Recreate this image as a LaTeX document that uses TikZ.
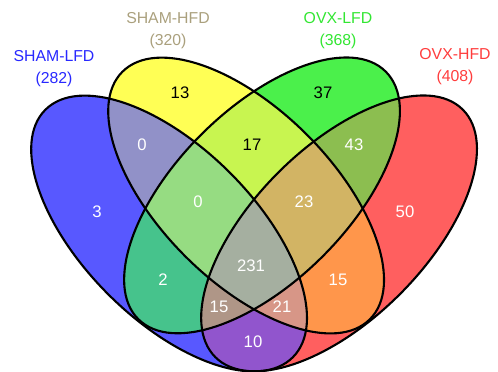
\documentclass[tikz,border=0pt]{standalone}
\usepackage{fontspec}
\setmainfont{Liberation Sans}
% one set
\definecolor{onlyA}{RGB}{88,88,255}
\definecolor{onlyB}{RGB}{255,255,85}
\definecolor{onlyC}{RGB}{75,240,75}
\definecolor{onlyD}{RGB}{255,95,95}
% two sets
\definecolor{twoAB}{RGB}{145,145,200}
\definecolor{twoAC}{RGB}{70,195,140}
\definecolor{twoAD}{RGB}{145,85,205}
\definecolor{twoBC}{RGB}{200,245,80}
\definecolor{twoBD}{RGB}{255,150,75}
\definecolor{twoCD}{RGB}{140,190,80}
% three and four sets
\definecolor{threeABC}{RGB}{150,220,130}
\definecolor{threeABD}{RGB}{215,150,135}
\definecolor{threeACD}{RGB}{175,150,135}
\definecolor{threeBCD}{RGB}{210,180,100}
\definecolor{fourABCD}{RGB}{165,175,160}
% labels
\definecolor{labA}{RGB}{40,40,255}
\definecolor{labB}{RGB}{170,160,125}
\definecolor{labC}{RGB}{50,230,50}
\definecolor{labD}{RGB}{255,60,60}
\begin{document}
\begin{tikzpicture}[scale=0.02,
  vsize/.style={x radius=175, y radius=86},
  num/.style={text=white, font=\fontsize{9.5}{11}\selectfont},
  dark/.style={text=black},
  title/.style={align=center, font=\fontsize{9}{12.5}\selectfont}]
 \useasboundingbox (0,0) rectangle (498,371);
 % centres of the ellipses
 \coordinate (A) at (169,137.5);
 \coordinate (B) at (246,175.5);
 \coordinate (C) at (262,175.5);
 \coordinate (D) at (339,137.5);
 % one set
 \foreach \s/\r in {A/-45,B/-45,C/45,D/45}
   \fill[fill=only\s, rotate around={\r:(\s)}] (\s) ellipse [vsize];
 % two sets
 \foreach \s/\r/\t/\q in {A/-45/B/-45, A/-45/C/45, A/-45/D/45,
                          B/-45/C/45, B/-45/D/45, C/45/D/45}{
   \begin{scope}
     \clip[rotate around={\r:(\s)}] (\s) ellipse [vsize];
     \fill[fill=two\s\t, rotate around={\q:(\t)}] (\t) ellipse [vsize];
   \end{scope}}
 % three sets
 \foreach \s/\r/\t/\q/\u/\p in {A/-45/B/-45/C/45, A/-45/B/-45/D/45,
                                A/-45/C/45/D/45, B/-45/C/45/D/45}{
   \begin{scope}
     \clip[rotate around={\r:(\s)}] (\s) ellipse [vsize];
     \clip[rotate around={\q:(\t)}] (\t) ellipse [vsize];
     \fill[fill=three\s\t\u, rotate around={\p:(\u)}] (\u) ellipse [vsize];
   \end{scope}}
 % four sets
 \begin{scope}
   \clip[rotate around={-45:(A)}] (A) ellipse [vsize];
   \clip[rotate around={-45:(B)}] (B) ellipse [vsize];
   \clip[rotate around={45:(C)}] (C) ellipse [vsize];
   \fill[fourABCD, rotate around={45:(D)}] (D) ellipse [vsize];
 \end{scope}
 % outlines
 \foreach \s/\r in {A/-45,B/-45,C/45,D/45}
   \draw[line width=1.2pt, rotate around={\r:(\s)}] (\s) ellipse [vsize];
 % set names
 \node[title, text=labA] (tA) at (54,302)  {SHAM-LFD\\(282)};
 \node[title, text=labB] (tB) at (168,340) {SHAM-HFD\\(320)};
 \node[title, text=labC] (tC) at (338,340) {OVX-LFD\\(368)};
 \node[title, text=labD] (tD) at (455,304) {OVX-HFD\\(408)};
 % counts
 \node[num]       (nA)    at (97,159)  {3};
 \node[num, dark] (nB)    at (180,278) {13};
 \node[num, dark] (nC)    at (323,278) {37};
 \node[num]       (nD)    at (405,159) {50};
 \node[num]       (nAB)   at (142,226) {0};
 \node[num, dark] (nBC)   at (252,226) {17};
 \node[num]       (nCD)   at (354,226) {43};
 \node[num]       (nABC)  at (198,169) {0};
 \node[num]       (nBCD)  at (304,169) {23};
 \node[num]       (nABCD) at (251,105) {231};
 \node[num]       (nAC)   at (163,91)  {2};
 \node[num]       (nBD)   at (338,91)  {15};
 \node[num]       (nACD)  at (219,64)  {15};
 \node[num]       (nABD)  at (282,64)  {21};
 \node[num]       (nAD)   at (253,29)  {10};
\end{tikzpicture}
\end{document}
